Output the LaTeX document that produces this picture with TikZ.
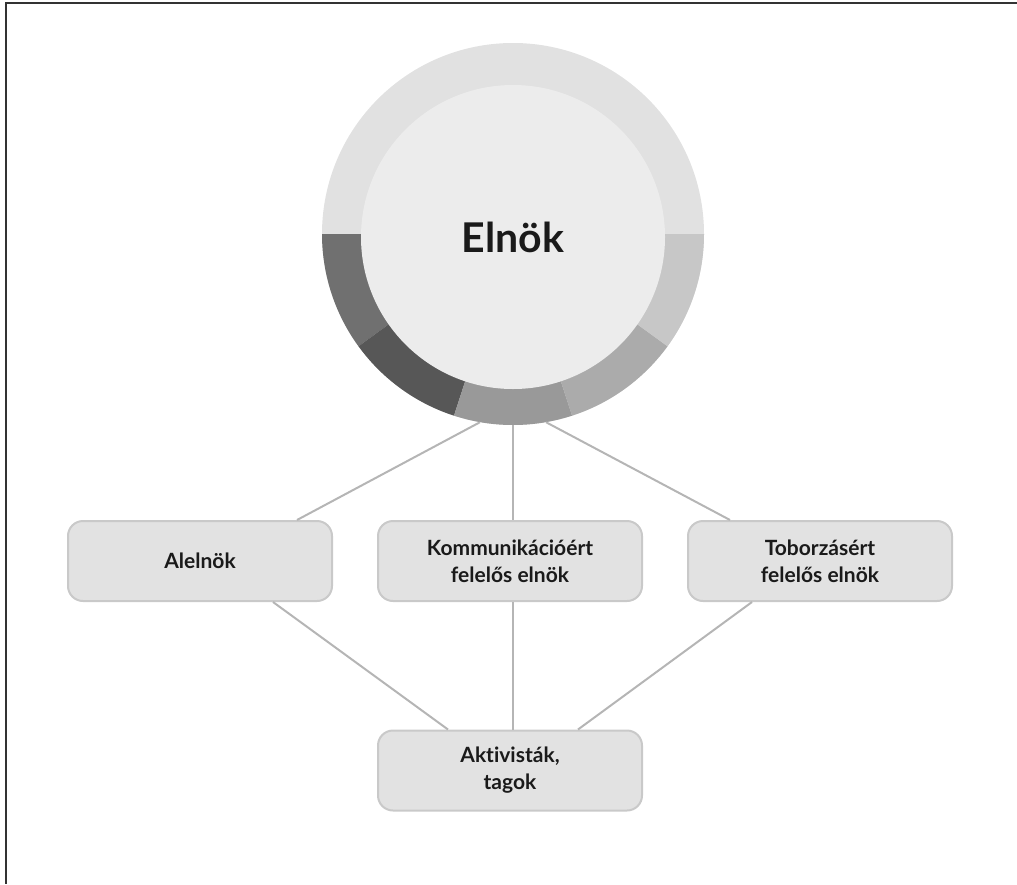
\documentclass[tikz,border=0pt]{standalone}
\usepackage{fontspec}
\setmainfont{Lato}[Ligatures={NoCommon}]
\usepackage{xcolor}
\usetikzlibrary{calc}

\definecolor{frame}{HTML}{333333}
\definecolor{ringtop}{HTML}{E1E1E1}
\definecolor{ringa}{HTML}{707070}
\definecolor{ringb}{HTML}{575757}
\definecolor{ringc}{HTML}{999999}
\definecolor{ringd}{HTML}{ABABAB}
\definecolor{ringe}{HTML}{C7C7C7}
\definecolor{core}{HTML}{ECECEC}
\definecolor{boxfill}{HTML}{E2E2E2}
\definecolor{boxline}{HTML}{C9C9C9}
\definecolor{wire}{HTML}{B5B5B5}
\definecolor{ink}{HTML}{1A1A1A}

\tikzset{
  rolebox/.style={draw=boxline, fill=boxfill, line width=2pt, rounded corners=15pt,
    minimum width=264pt, minimum height=80pt, align=center, text=ink,
    font=\fontsize{21}{27}\selectfont\bfseries},
  wireline/.style={draw=wire, line width=2pt}
}

\begin{document}
\begin{tikzpicture}[x=1pt, y=-1pt]
          \useasboundingbox (0,0) rectangle (1017,884);
          \coordinate (C) at (513,234);

          \draw[frame, line width=2pt] (1017,3) -- (6,3) -- (6,884);

          \node[circle, fill=ringtop, minimum size=382pt, inner sep=0pt] (elnok) at (C) {};
          \foreach \a/\b/\col in {180/216/ringa, 216/252/ringb, 252/288/ringc,
                                  288/324/ringd, 324/360/ringe}
            \fill[\col] (C) -- ++(\a:191pt) arc[start angle=\a, end angle=\b, radius=191pt] -- cycle;
          \node[circle, fill=core, minimum size=304pt, inner sep=0pt, text=ink,
                font=\fontsize{41}{47}\selectfont\bfseries] (elnokcore) at (513,237) {Elnök};

          \node[rolebox] (alelnok) at (200,561) {Alelnök};
          \node[rolebox] (komm) at (510,561) {Kommunikációért\\felelős elnök};
          \node[rolebox] (tobor) at (820,561) {Toborzásért\\felelős elnök};
          \node[rolebox] (aktiv) at (510,770.5) {Aktivisták,\\tagok};

          \draw[wireline] (elnok.260) -- ([xshift=97pt]alelnok.north);
          \draw[wireline] (elnok.south) -- (elnok.south |- komm.north);
          \draw[wireline] (elnok.280) -- ([xshift=-90pt]tobor.north);
          \draw[wireline] ([xshift=73pt]alelnok.south) -- ([xshift=-62pt]aktiv.north);
          \draw[wireline] (komm.south -| elnok.south) -- (aktiv.north -| elnok.south);
          \draw[wireline] ([xshift=-68pt]tobor.south) -- ([xshift=68pt]aktiv.north);

\end{tikzpicture}
\end{document}
